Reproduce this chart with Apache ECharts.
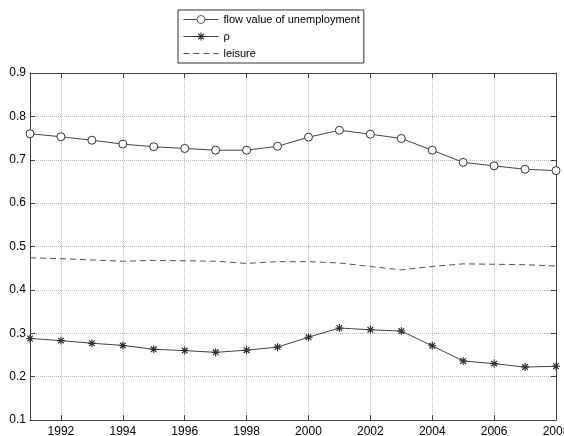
<!DOCTYPE html>
<html>
<head>
<meta charset="utf-8">
<script src="https://cdn.jsdelivr.net/npm/echarts@6/dist/echarts.min.js"></script>
<style>html,body{margin:0;padding:0;background:#fff;}#c{width:564px;height:436px;}</style>
</head>
<body>
<div id="c"></div>
<script>
var years = ['1991','1992','1993','1994','1995','1996','1997','1998','1999','2000','2001','2002','2003','2004','2005','2006','2007','2008'];
var flowValue = [0.760,0.753,0.745,0.736,0.730,0.726,0.722,0.722,0.731,0.752,0.768,0.759,0.749,0.722,0.694,0.686,0.678,0.675];
var rho = [0.288,0.283,0.277,0.272,0.263,0.260,0.256,0.261,0.268,0.291,0.312,0.308,0.305,0.271,0.236,0.230,0.222,0.224];
var leisure = [0.474,0.472,0.469,0.466,0.468,0.467,0.466,0.461,0.465,0.465,0.462,0.454,0.446,0.454,0.460,0.459,0.458,0.455];

var star = 'path://M-0.45,-3.5 L0.45,-3.5 L0.45,3.5 L-0.45,3.5 Z M-3.5,-0.45 L-3.5,0.45 L3.5,0.45 L3.5,-0.45 Z ' +
  'M2.83,2.12 L2.12,2.83 L-2.83,-2.12 L-2.12,-2.83 Z M2.12,-2.83 L2.83,-2.12 L-2.12,2.83 L-2.83,2.12 Z';
var odd = function (i) { return i % 2 === 1; };
var font = 'Liberation Sans, Arial, sans-serif';

var chart = echarts.init(document.getElementById('c'), null, {renderer: 'canvas'});
chart.setOption({
  animation: false,
  backgroundColor: '#fff',
  color: ['#444', '#333', '#555'],
  textStyle: {fontFamily: font},
  grid: {left: 30, right: 8, top: 73, bottom: 16, containLabel: false, outerBoundsMode: 'none'},
  legend: {
    orient: 'vertical', left: 178, top: 10,
    padding: [4, 4, 4, 5], itemGap: 6,
    itemWidth: 35, itemHeight: 10,
    borderColor: '#333', borderWidth: 1, backgroundColor: '#fff',
    lineStyle: {width: 1},
    itemStyle: {borderWidth: 0.8},
    textStyle: {fontFamily: font, fontSize: 11, color: '#000'},
    data: ['flow value of unemployment', 'ρ', {name: 'leisure', itemStyle: {opacity: 0}}]
  },
  xAxis: [{
    type: 'category', data: years, boundaryGap: false,
    axisLine: {lineStyle: {color: '#444', width: 1}},
    axisTick: {inside: true, length: 5, interval: odd, lineStyle: {color: '#444'}},
    axisLabel: {interval: odd, color: '#000', fontSize: 12, fontFamily: font, margin: 6},
    splitLine: {show: true, interval: odd, lineStyle: {color: '#bbb', type: 'dotted'}}
  }, {
    type: 'category', data: years, boundaryGap: false, position: 'top',
    axisLine: {lineStyle: {color: '#444', width: 1}},
    axisTick: {inside: true, length: 5, interval: odd, lineStyle: {color: '#444'}},
    axisLabel: {show: false}, splitLine: {show: false}
  }],
  yAxis: [{
    type: 'value', min: 0.1, max: 0.9, interval: 0.1,
    axisLine: {show: true, lineStyle: {color: '#444', width: 1}},
    axisTick: {show: true, inside: true, length: 5, lineStyle: {color: '#444'}},
    axisLabel: {color: '#000', fontSize: 12, fontFamily: font, margin: 4,
      formatter: function (v) { return v.toFixed(1); }},
    splitLine: {show: true, lineStyle: {color: '#bbb', type: 'dotted'}}
  }, {
    type: 'value', min: 0.1, max: 0.9, interval: 0.1, position: 'right',
    axisLine: {show: true, lineStyle: {color: '#444', width: 1}},
    axisTick: {show: true, inside: true, length: 5, lineStyle: {color: '#444'}},
    axisLabel: {show: false}, splitLine: {show: false}
  }],
  series: [{
    name: 'flow value of unemployment', type: 'line', data: flowValue,
    xAxisIndex: 0, yAxisIndex: 0,
    symbol: 'circle', symbolSize: 8, showSymbol: true, showAllSymbol: true,
    itemStyle: {color: '#fff', borderColor: '#333', borderWidth: 1},
    lineStyle: {color: '#444', width: 1, type: 'solid'}
  }, {
    name: 'ρ', type: 'line', data: rho,
    xAxisIndex: 0, yAxisIndex: 0,
    symbol: star, symbolSize: 8, showSymbol: true, showAllSymbol: true,
    itemStyle: {color: '#222'},
    lineStyle: {color: '#444', width: 1, type: 'solid'}
  }, {
    name: 'leisure', type: 'line', data: leisure,
    xAxisIndex: 0, yAxisIndex: 0,
    symbol: 'none', showSymbol: false,
    lineStyle: {color: '#555', width: 1, type: [6, 4]}
  }]
});
</script>
</body>
</html>
